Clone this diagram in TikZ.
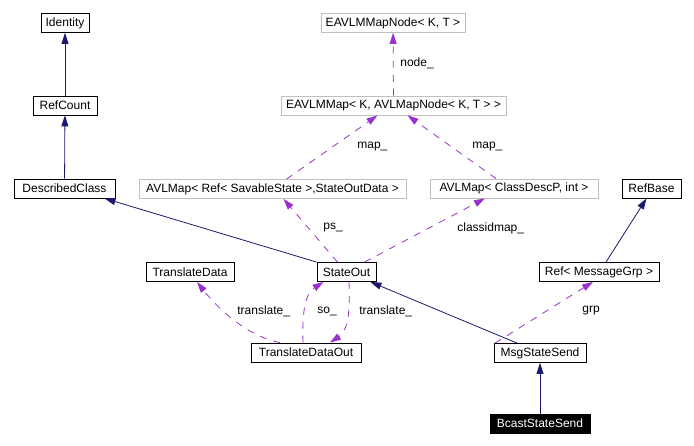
\documentclass[tikz,border=0pt]{standalone}
\usepackage{fontspec}
\setmainfont{Liberation Sans}
\usetikzlibrary{arrows.meta}
\definecolor{navy2}{RGB}{25,25,112}
\definecolor{purp}{RGB}{153,50,204}
\definecolor{grey3}{RGB}{191,191,191}
\tikzset{
  cls/.style={draw=black, line width=0.8pt, minimum height=19pt, inner sep=0pt, font=\fontsize{12}{14}\selectfont},
  tmpl/.style={cls, draw=grey3},
  cur/.style={cls, fill=black, text=white},
  inh/.style={draw=navy2, line width=0.8pt, -{Triangle[length=11pt,width=7pt]}},
  usage/.style={draw=purp, line width=0.8pt, dash pattern=on 7pt off 7pt, -{Triangle[length=11pt,width=7pt]}},
  lbl/.style={font=\fontsize{12}{14}\selectfont, inner sep=0pt, anchor=west}
}

\begin{document}
\begin{tikzpicture}[x=1pt, y=-1pt]
\useasboundingbox (0,0) rectangle (694,446);
% classes
\node[cls, minimum width=48pt] (identity) at (65,23) {Identity};
\node[cls, minimum width=64pt] (refcount) at (65,105.5) {RefCount};
\node[cls, minimum width=101pt] (dc) at (64.5,188.5) {DescribedClass};
\node[tmpl, minimum width=267pt] (avlref) at (272.5,189) {AVLMap< Ref< SavableState >,StateOutData >};
\node[tmpl, minimum width=144pt] (mapnode) at (393,23) {EAVLMMapNode< K, T >};
\node[tmpl, minimum width=225pt] (emap) at (393.5,105.5) {EAVLMMap< K, AVLMapNode< K, T > >};
\node[tmpl, minimum width=168pt] (avlcls) at (514,188.5) {AVLMap< ClassDescP, int >};
\node[cls, minimum width=59pt] (refbase) at (651.5,188.5) {RefBase};
\node[cls, minimum width=120pt] (refmsg) at (599,272) {Ref< MessageGrp >};
\node[cls, minimum width=59pt] (so) at (346.5,272) {StateOut};
\node[cls, minimum width=88pt] (td) at (190,272) {TranslateData};
\node[cls, minimum width=110pt] (tdo) at (306,352.5) {TranslateDataOut};
\node[cls, minimum width=92pt] (mss) at (540,353) {MsgStateSend};
\node[cur, minimum width=100pt] (bss) at (540,423.5) {BcastStateSend};

% inheritance
\draw[inh] (refcount) -- (identity);
\draw[inh] (dc) -- (refcount);
\draw[inh] (so.north west) -- ([xshift=40pt]dc.south);
\draw[inh] ([xshift=-23pt]mss.north) -- ([xshift=-6pt]so.south east);
\draw[inh] ([xshift=7pt]refmsg.north) -- ([xshift=-5pt]refbase.south);
\draw[inh] (bss) -- (mss);

% members
\draw[usage] (emap) -- (mapnode) node[lbl, at={(400,63)}] {node\_};
\draw[usage] ([xshift=14pt]avlref.north) -- ([xshift=-16pt]emap.south) node[lbl, at={(357,147)}] {map\_};
\draw[usage] ([xshift=-18pt]avlcls.north) -- ([xshift=14pt]emap.south) node[lbl, at={(472,147)}] {map\_};
\draw[usage] ([xshift=-9pt]so.north) -- ([xshift=11pt]avlref.south) node[lbl, at={(323,228)}] {ps\_};
\draw[usage] ([xshift=18pt]so.north) -- ([xshift=-29pt]avlcls.south) node[lbl, at={(457,228)}] {classidmap\_};
\draw[usage] ([xshift=-45pt]mss.north) -- ([xshift=-6pt]refmsg.south) node[lbl, at={(582,311)}] {grp};
\draw[usage] ([xshift=-26pt]tdo.north) .. controls (245,336) and (215,305) .. ([xshift=7pt]td.south) node[lbl, at={(237,311)}] {translate\_};
\draw[usage] ([xshift=-3pt]tdo.north) .. controls (302,312) and (305,294) .. ([xshift=-23pt]so.south) node[lbl, at={(317,311)}] {so\_};
\draw[usage] ([xshift=2.5pt]so.south) .. controls (350,308) and (349,330) .. ([xshift=24pt]tdo.north) node[lbl, at={(359,311)}] {translate\_};
\end{tikzpicture}
\end{document}
